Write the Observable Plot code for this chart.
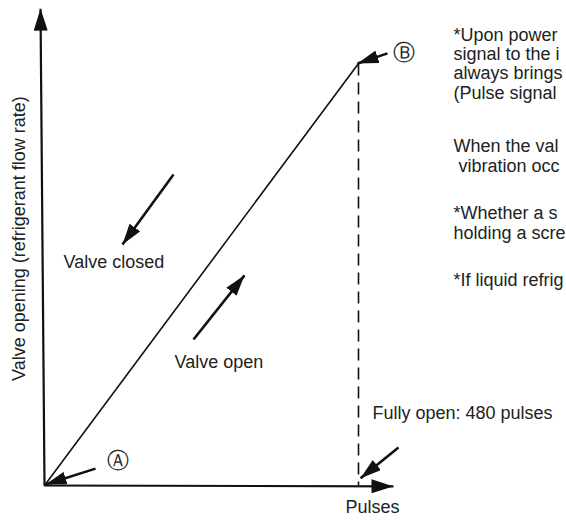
<!DOCTYPE html>
<html><head><meta charset="utf-8">
<script src="https://cdn.jsdelivr.net/npm/d3@7"></script>
<script src="https://cdn.jsdelivr.net/npm/@observablehq/plot@0.6"></script>
<style>
html,body{margin:0;padding:0;background:#fff;overflow:hidden;}
svg{overflow:hidden;}
</style>
</head><body>
<div id="chart"></div>
<script>
// Data units: x = pulses (0..480 fully open), y = valve opening (% of full)
const fullPulses = 480;
const curve = [{p: 0, v: 0}, {p: 480, v: 100}];
const axes = [
  {x1: 0, y1: 0, x2: -6.1, y2: 113},     // vertical axis
  {x1: 0, y1: 0, x2: 533.5, y2: -0.2}    // horizontal axis
];
const dashed = [{x1: 480, y1: 100, x2: 480, y2: 0}];
const arrows = [
  {x1: 197.2, y1: 73.7, x2: 119.2, y2: 57.1},  // valve closed
  {x1: 227.8, y1: 34.6, x2: 305.7, y2: 49.8},  // valve open
  {x1: 78.0, y1: 4.0, x2: 1.5, y2: 0.25},      // A
  {x1: 524.3, y1: 102.4, x2: 478.5, y2: 100},  // B
  {x1: 541.1, y1: 9.0, x2: 483.1, y2: 1.7}     // fully open
];
const leftLabels = [
  {x: 29.0, y: 52.8, text: "Valve closed"},
  {x: 198.7, y: 29.1, text: "Valve open"},
  {x: 501.4, y: 17.1, text: "Fully open: 480 pulses"}
];
const xLabel = [{x: 501.4, y: -5.2, text: "Pulses"}];
const circled = [
  {x: 111.6, y: 5.9, text: "Ⓐ"},
  {x: 548.8, y: 102.6, text: "Ⓑ"}
];
const yLabel = [{x: -38.2, y: 58.5, text: "Valve opening (refrigerant flow rate)"}];
const noteLines = [
  "*Upon power", "signal to the i", "always brings", "(Pulse signal",
  "When the val", " vibration occ",
  "*Whether a s", "holding a scre",
  "*If liquid refrig"
];
const noteY = [106.6, 102.1, 97.6, 92.9, 80.3, 75.6, 64.5, 59.7, 48.6];
const notes = noteLines.map((t, i) => ({x: 625.2, y: noteY[i], text: t}));

function head(len, wid) {
  return (color, context) => {
    const ns = "http://www.w3.org/2000/svg";
    const m = context.document.createElementNS(ns, "marker");
    m.setAttribute("viewBox", `0 ${-wid/2} ${len} ${wid}`);
    m.setAttribute("markerUnits", "userSpaceOnUse");
    m.setAttribute("markerWidth", len);
    m.setAttribute("markerHeight", wid);
    m.setAttribute("refX", len);
    m.setAttribute("refY", 0);
    m.setAttribute("orient", "auto");
    const p = context.document.createElementNS(ns, "path");
    p.setAttribute("d", `M0,${-wid/2}L${len},0L0,${wid/2}Z`);
    p.setAttribute("fill", "#111");
    p.setAttribute("stroke", "none");
    m.appendChild(p);
    return m;
  };
}

const font = "'Liberation Sans', Arial, Helvetica, sans-serif";
const chart = Plot.plot({
  width: 566,
  height: 520,
  margin: 0,
  style: {fontFamily: font, background: "#fff", color: "#222"},
  x: {type: "linear", domain: [0, fullPulses], range: [44, 358], axis: null},
  y: {type: "linear", domain: [0, 100], range: [485, 63], axis: null},
  marks: [
    Plot.link(axes, {x1: "x1", y1: "y1", x2: "x2", y2: "y2", stroke: "#111", strokeWidth: 2.2, markerEnd: head(22, 14)}),
    Plot.line(curve, {x: "p", y: "v", stroke: "#111", strokeWidth: 1.6}),
    Plot.link(dashed, {x1: "x1", y1: "y1", x2: "x2", y2: "y2", stroke: "#111", strokeWidth: 1.6, strokeDasharray: "12,7"}),
    Plot.link(arrows, {x1: "x1", y1: "y1", x2: "x2", y2: "y2", stroke: "#111", strokeWidth: 2.6, markerEnd: head(21, 13)}),
    Plot.text(leftLabels, {x: "x", y: "y", text: "text", textAnchor: "start", fontSize: 18, fill: "#222", lineAnchor: "middle"}),
    Plot.text(xLabel, {x: "x", y: "y", text: "text", textAnchor: "middle", fontSize: 18, fill: "#222", lineAnchor: "middle"}),
    Plot.text(circled, {x: "x", y: "y", text: "text", fontSize: 22, fill: "#222", fontFamily: "'DejaVu Sans', sans-serif", lineAnchor: "middle"}),
    Plot.text(yLabel, {x: "x", y: "y", text: "text", rotate: -90, fontSize: 18, fill: "#222", lineAnchor: "middle"}),
    Plot.text(notes, {x: "x", y: "y", text: "text", textAnchor: "start", fontSize: 18, fill: "#222", lineAnchor: "middle"})
  ]
});
document.getElementById("chart").appendChild(chart);
</script>
</body></html>
